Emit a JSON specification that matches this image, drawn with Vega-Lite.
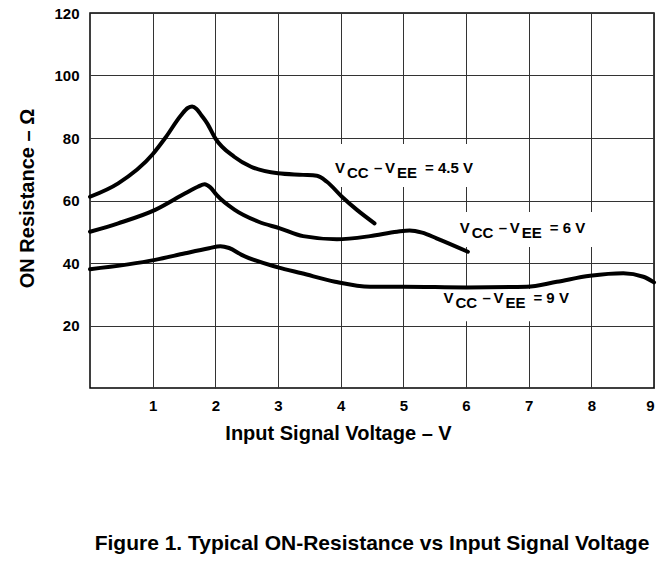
{
  "$schema": "https://vega.github.io/schema/vega-lite/v6.json",
  "width": 564,
  "height": 375,
  "autosize": {"type": "none"},
  "padding": {"left": 90, "top": 13, "right": 11, "bottom": 175},
  "background": "white",
  "title": {
    "text": "Figure 1. Typical ON-Resistance vs Input Signal Voltage",
    "orient": "bottom",
    "anchor": "middle",
    "offset": 90,
    "font": "Liberation Sans",
    "fontSize": 21,
    "fontWeight": "bold",
    "color": "#000"
  },
  "config": {
    "view": {"stroke": "#000", "strokeWidth": 1.5},
    "axis": {
      "labelFont": "Liberation Sans",
      "labelFontSize": 15,
      "labelFontWeight": "bold",
      "labelColor": "#000",
      "titleFont": "Liberation Sans",
      "titleFontSize": 20,
      "titleFontWeight": "bold",
      "titleColor": "#000",
      "grid": true,
      "gridColor": "#333",
      "gridWidth": 1,
      "gridOpacity": 1,
      "ticks": false,
      "domain": false
    }
  },
  "datasets": {
    "curves": [
      {"s": "4.5", "v": 0, "r": 61.2},
      {"s": "4.5", "v": 0.45, "r": 65.5},
      {"s": "4.5", "v": 1.0, "r": 74.8},
      {"s": "4.5", "v": 1.2, "r": 80},
      {"s": "4.5", "v": 1.45, "r": 87.2},
      {"s": "4.5", "v": 1.56, "r": 89.6},
      {"s": "4.5", "v": 1.63, "r": 90.1},
      {"s": "4.5", "v": 1.7, "r": 89.3},
      {"s": "4.5", "v": 1.78, "r": 87.2},
      {"s": "4.5", "v": 1.87, "r": 84.7},
      {"s": "4.5", "v": 2.0, "r": 79.9},
      {"s": "4.5", "v": 2.3, "r": 74},
      {"s": "4.5", "v": 2.57, "r": 70.8},
      {"s": "4.5", "v": 3.0, "r": 68.7},
      {"s": "4.5", "v": 3.4, "r": 68.2},
      {"s": "4.5", "v": 3.62, "r": 67.9},
      {"s": "4.5", "v": 3.78, "r": 66},
      {"s": "4.5", "v": 4.02, "r": 61.2},
      {"s": "4.5", "v": 4.26, "r": 57},
      {"s": "4.5", "v": 4.54, "r": 52.7},
      {"s": "6", "v": 0, "r": 50.0},
      {"s": "6", "v": 0.45, "r": 52.7},
      {"s": "6", "v": 1.04, "r": 57},
      {"s": "6", "v": 1.52, "r": 62.3},
      {"s": "6", "v": 1.72, "r": 64.4},
      {"s": "6", "v": 1.83, "r": 65.2},
      {"s": "6", "v": 1.92, "r": 64.2},
      {"s": "6", "v": 2.02, "r": 61.8},
      {"s": "6", "v": 2.31, "r": 57},
      {"s": "6", "v": 2.69, "r": 53.2},
      {"s": "6", "v": 3.03, "r": 51.1},
      {"s": "6", "v": 3.4, "r": 48.6},
      {"s": "6", "v": 3.94, "r": 47.6},
      {"s": "6", "v": 4.47, "r": 48.6},
      {"s": "6", "v": 4.9, "r": 50.0},
      {"s": "6", "v": 5.1, "r": 50.4},
      {"s": "6", "v": 5.3, "r": 49.7},
      {"s": "6", "v": 5.53, "r": 47.9},
      {"s": "6", "v": 6.03, "r": 43.6},
      {"s": "9", "v": 0, "r": 38.0},
      {"s": "9", "v": 1.04, "r": 41},
      {"s": "9", "v": 1.52, "r": 43.1},
      {"s": "9", "v": 1.9, "r": 44.7},
      {"s": "9", "v": 2.08, "r": 45.4},
      {"s": "9", "v": 2.22, "r": 44.8},
      {"s": "9", "v": 2.42, "r": 42.6},
      {"s": "9", "v": 3.0, "r": 38.6},
      {"s": "9", "v": 3.38, "r": 36.7},
      {"s": "9", "v": 3.91, "r": 34},
      {"s": "9", "v": 4.47, "r": 32.4},
      {"s": "9", "v": 5.0, "r": 32.4},
      {"s": "9", "v": 6.01, "r": 32.2},
      {"s": "9", "v": 6.97, "r": 32.4},
      {"s": "9", "v": 7.45, "r": 34},
      {"s": "9", "v": 7.98, "r": 35.9},
      {"s": "9", "v": 8.51, "r": 36.7},
      {"s": "9", "v": 8.83, "r": 35.6},
      {"s": "9", "v": 9.0, "r": 33.8}
    ],
    "labels": [
      {"v": 3.91, "r": 68.7, "tail": "= 4.5 V"},
      {"v": 5.9, "r": 49.7, "tail": "= 6 V"},
      {"v": 5.64, "r": 27.3, "tail": "= 9 V"}
    ],
    "boxes": [
      {"v1": 3.88, "v2": 6.2, "r1": 64.3, "r2": 78.1},
      {"v1": 5.82, "v2": 8.06, "r1": 45.1, "r2": 56.3},
      {"v1": 5.58, "v2": 7.79, "r1": 21.4, "r2": 31.7}
    ]
  },
  "layer": [
    {
      "data": {"name": "boxes"},
      "mark": {"type": "rect", "color": "white"},
      "encoding": {
        "x": {"field": "v1", "type": "quantitative", "scale": {"domain": [0, 9], "nice": false},
          "axis": {"values": [1, 2, 3, 4, 5, 6, 7, 8, 9], "format": "d", "labelPadding": 10, "title": "Input Signal Voltage – V", "titleX": 248, "titleY": 35, "titleBaseline": "top", "titleAlign": "center"}},
        "x2": {"field": "v2"},
        "y": {"field": "r1", "type": "quantitative", "scale": {"domain": [0, 120], "nice": false},
          "axis": {"values": [20, 40, 60, 80, 100, 120], "format": "d", "labelPadding": 11, "title": "ON Resistance – Ω", "titleX": -57, "titleY": 185, "titleBaseline": "alphabetic", "titleAlign": "center", "titleAngle": 270}},
        "y2": {"field": "r2"}
      }
    },
    {
      "data": {"name": "curves"},
      "mark": {"type": "line", "color": "#000", "strokeWidth": 4, "interpolate": "monotone", "strokeCap": "round"},
      "encoding": {
        "x": {"field": "v", "type": "quantitative"},
        "y": {"field": "r", "type": "quantitative"},
        "detail": {"field": "s"}
      }
    },
    {
      "data": {"name": "labels"},
      "encoding": {
        "x": {"field": "v", "type": "quantitative"},
        "y": {"field": "r", "type": "quantitative"}
      },
      "layer": [
        {"mark": {"type": "text", "text": "V", "align": "left", "baseline": "alphabetic", "font": "Liberation Sans", "fontSize": 15, "fontWeight": "bold", "color": "#000", "dx": 0}},
        {"mark": {"type": "text", "text": "CC", "align": "left", "baseline": "alphabetic", "font": "Liberation Sans", "fontSize": 15, "fontWeight": "bold", "color": "#000", "dx": 12, "dy": 5}},
        {"mark": {"type": "text", "text": "–", "align": "left", "baseline": "alphabetic", "font": "Liberation Sans", "fontSize": 15, "fontWeight": "bold", "color": "#000", "dx": 39}},
        {"mark": {"type": "text", "text": "V", "align": "left", "baseline": "alphabetic", "font": "Liberation Sans", "fontSize": 15, "fontWeight": "bold", "color": "#000", "dx": 50}},
        {"mark": {"type": "text", "text": "EE", "align": "left", "baseline": "alphabetic", "font": "Liberation Sans", "fontSize": 15, "fontWeight": "bold", "color": "#000", "dx": 62, "dy": 5}},
        {"mark": {"type": "text", "align": "left", "baseline": "alphabetic", "font": "Liberation Sans", "fontSize": 15, "fontWeight": "bold", "color": "#000", "dx": 90}, "encoding": {"text": {"field": "tail"}}}
      ]
    }
  ]
}
